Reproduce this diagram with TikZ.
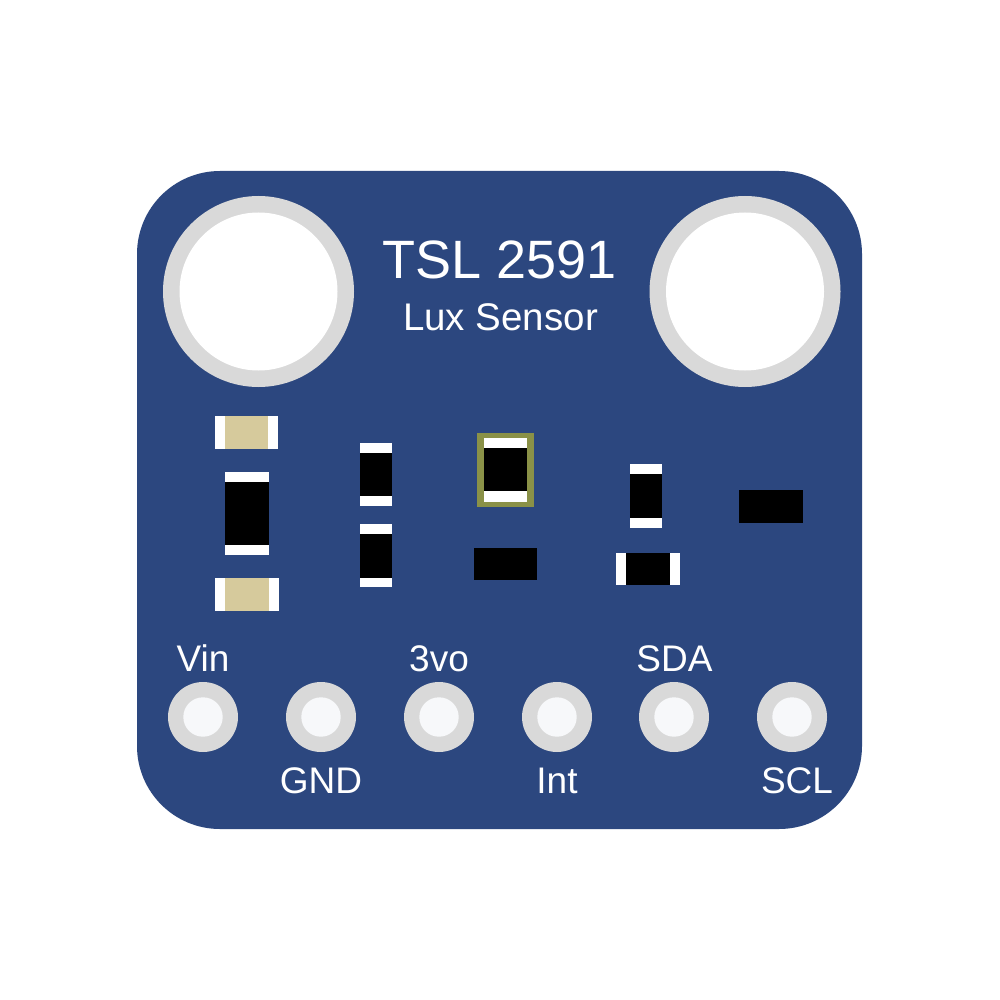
\documentclass[tikz,border=0pt]{standalone}
\usepackage{fontspec}
\setmainfont{Liberation Sans}
\definecolor{boardblue}{HTML}{2C477F}
\definecolor{ringgrey}{HTML}{D9D9D9}
\definecolor{padwhite}{HTML}{F7F8FA}
\definecolor{captan}{HTML}{D6CA9C}
\definecolor{mountolive}{HTML}{8A9147}
\begin{document}
\begin{tikzpicture}[x=1pt, y=-1pt]
        \tikzstyle{part}=[rectangle, inner sep=0pt, outer sep=0pt]
        \tikzstyle{ends}=[part, fill=white]
        \tikzstyle{body}=[part, fill=black]
        \tikzstyle{ring}=[circle, inner sep=0pt, outer sep=0pt, fill=ringgrey]
        \tikzstyle{label}=[anchor=base, inner sep=0pt, text=white, font=\fontsize{37}{37}\selectfont]
        \useasboundingbox (0,0) rectangle (1000,1000);
        \fill [white] (0,0) rectangle (1000,1000);
        \fill [boardblue, rounded corners=83pt] (137,171) rectangle (862,829);
        % mounting holes
        \node [ring, minimum size=191pt] (holeleft) at (258.5,291.5) {};
        \node [circle, inner sep=0pt, fill=white, minimum size=158pt] (holeleftin) at (holeleft) {};
        \node [ring, minimum size=191pt] (holeright) at (745,291.5) {};
        \node [circle, inner sep=0pt, fill=white, minimum size=158pt] (holerightin) at (holeright) {};
        % title
        \node [label, font=\fontsize{54}{54}\selectfont] (title) at (500,278.5) {TSL 2591};
        \node [label, font=\fontsize{38.5}{38.5}\selectfont] (subtitle) at (500.5,330) {Lux Sensor};
        % capacitors
        \node [ends, minimum width=63.5pt, minimum height=33pt] (capa) at (246.7,432.5) {};
        \node [part, fill=captan, minimum width=43.5pt, minimum height=33pt] (capabody) at (capa) {};
        \node [ends, minimum width=63.5pt, minimum height=33pt] (capb) at (247,594.3) {};
        \node [part, fill=captan, minimum width=43.5pt, minimum height=33pt] (capbbody) at (capb) {};
        % resistors
        \node [ends, minimum width=44pt, minimum height=83.5pt] (resa) at (247,513.5) {};
        \node [body, minimum width=44pt, minimum height=63.5pt] (resabody) at (resa) {};
        \node [ends, minimum width=32.3pt, minimum height=63.5pt] (resb) at (376.2,474.5) {};
        \node [body, minimum width=32.3pt, minimum height=43.5pt] (resbbody) at (resb) {};
        \node [ends, minimum width=32.3pt, minimum height=63pt] (resc) at (375.8,555.8) {};
        \node [body, minimum width=32.3pt, minimum height=43.5pt] (rescbody) at (resc) {};
        \node [ends, minimum width=32.3pt, minimum height=63.5pt] (resd) at (646.2,495.8) {};
        \node [body, minimum width=32.3pt, minimum height=43.5pt] (resdbody) at (resd) {};
        \node [ends, minimum width=63.5pt, minimum height=32.3pt] (rese) at (648,568.8) {};
        \node [body, minimum width=43.5pt, minimum height=32.3pt] (resebody) at (rese) {};
        % light sensor
        \node [part, fill=mountolive, minimum width=56.7pt, minimum height=74pt] (sensor) at (505.3,469.7) {};
        \node [ends, minimum width=42.7pt, minimum height=63.7pt] (sensorends) at (sensor) {};
        \node [body, minimum width=42.7pt, minimum height=43.5pt] (sensorbody) at (sensor) {};
        % diodes
        \node [body, minimum width=63.5pt, minimum height=32.3pt] (diodea) at (505.3,564) {};
        \node [body, minimum width=63.5pt, minimum height=32.3pt] (diodeb) at (771,506.5) {};
        % header pads
        \foreach \name/\xpos in {vin/203, gnd/321, vo/439, int/557, sda/674, scl/792} {
            \node [ring, minimum size=70pt] (\name) at (\xpos,717) {};
            \node [circle, inner sep=0pt, fill=padwhite, minimum size=39.4pt] (\name in) at (\name) {};
        }
        % pin names
        \node [label] (vinlabel) at (203,671) {Vin};
        \node [label] (volabel) at (439,671) {3vo};
        \node [label] (sdalabel) at (674.5,671) {SDA};
        \node [label] (gndlabel) at (321,793) {GND};
        \node [label] (intlabel) at (557,793) {Int};
        \node [label] (scllabel) at (797,793) {SCL};
    \end{tikzpicture}
\end{document}
